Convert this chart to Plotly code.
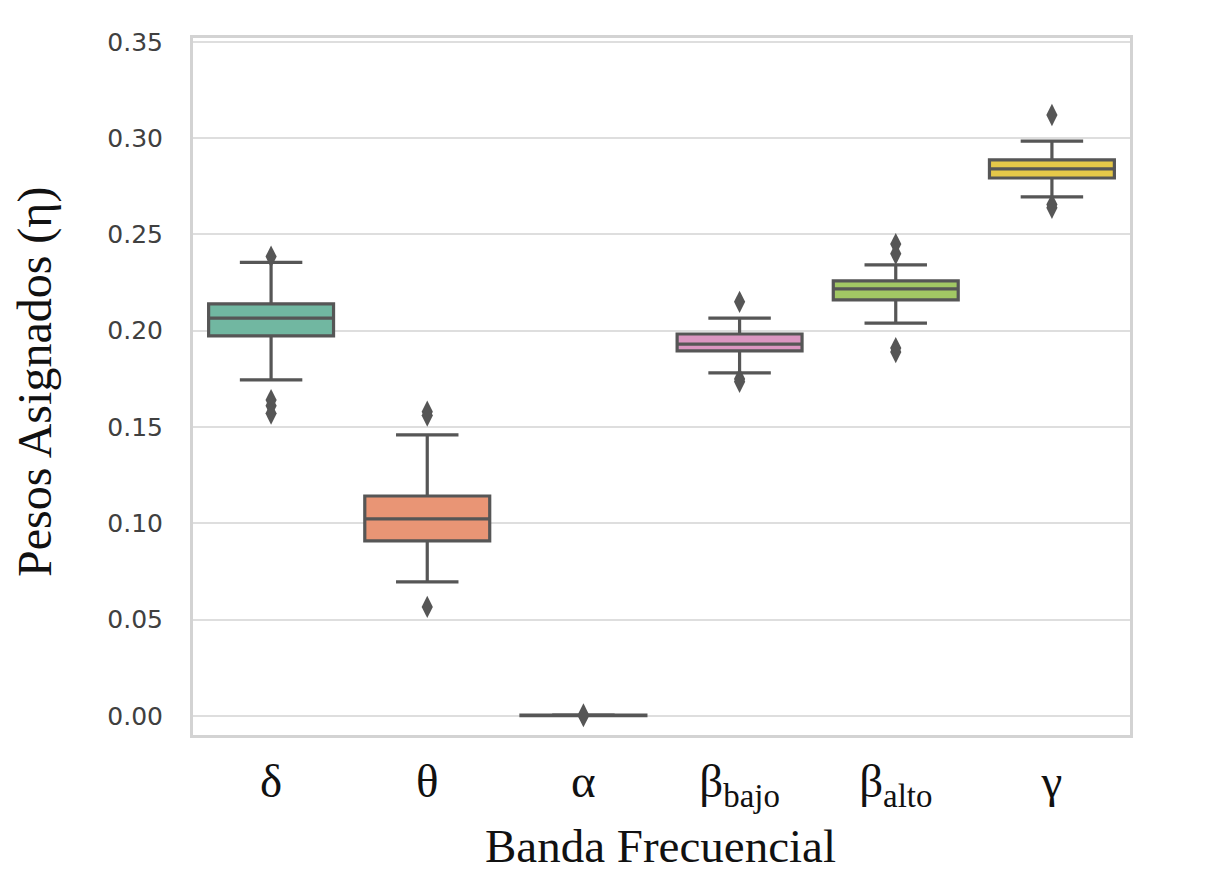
import plotly.graph_objects as go

categories = ["δ", "θ", "α", "β<sub>bajo</sub>", "β<sub>alto</sub>", "γ"]
q1 = [0.1973, 0.0909, 0.0002, 0.1895, 0.2160, 0.2793]
median = [0.2066, 0.1023, 0.0003, 0.1931, 0.2217, 0.2840]
q3 = [0.2139, 0.1142, 0.0004, 0.1983, 0.2259, 0.2887]
lowerfence = [0.1745, 0.0696, 0.0001, 0.1781, 0.2040, 0.2695]
upperfence = [0.2355, 0.1459, 0.0006, 0.2066, 0.2342, 0.2985]
outliers = [
    [0.2385, 0.1640, 0.1610, 0.1570],
    [0.1580, 0.1560, 0.0566],
    [-0.0001, 0.0008],
    [0.2150, 0.1750, 0.1735],
    [0.2450, 0.2400, 0.1910, 0.1890],
    [0.3120, 0.2655, 0.2638],
]
colors = ["#71b7a1", "#e99575", "#95a2c1", "#db96c1", "#a2c864", "#e5c849"]
tick_vals = [0.0, 0.05, 0.10, 0.15, 0.20, 0.25, 0.30, 0.35]

edge = "#565656"
fig = go.Figure()
for i, c in enumerate(categories):
    fig.add_trace(go.Box(
        x=[c], q1=[q1[i]], median=[median[i]], q3=[q3[i]],
        lowerfence=[lowerfence[i]], upperfence=[upperfence[i]],
        fillcolor=colors[i], line=dict(color=edge, width=3.2),
        width=0.8, whiskerwidth=0.5, boxpoints=False, showlegend=False,
    ))
    fig.add_trace(go.Scatter(
        x=[c] * len(outliers[i]), y=outliers[i], mode="markers",
        marker=dict(symbol="diamond-tall", size=16, color=edge, line=dict(width=0)),
        showlegend=False, hoverinfo="y",
    ))

L, R, T, B = 193, 1130, 38, 735
W, H = R - L, B - T

fig.update_layout(
    width=1209, height=873,
    margin=dict(l=L, r=1209 - R, t=T, b=873 - B),
    plot_bgcolor="white", paper_bgcolor="white",
    boxmode="overlay",
    xaxis=dict(
        type="category", categoryorder="array", categoryarray=categories,
        range=[-0.5, 5.5], autorange=False,
        showgrid=False, showline=True, linecolor="#d3d3d3", linewidth=3, mirror=True,
        ticks="", tickfont=dict(family="Liberation Serif", size=47, color="#111"),
        ticklabelstandoff=3, zeroline=False,
    ),
    yaxis=dict(
        range=[-0.0099, 0.352], tickvals=tick_vals, tickformat=".2f",
        showgrid=True, gridcolor="#dedede", gridwidth=2,
        showline=True, linecolor="#d3d3d3", linewidth=3, mirror=True,
        ticks="", tickfont=dict(family="DejaVu Sans", size=25, color="#404040"),
        ticklabelstandoff=22, zeroline=False,
    ),
    annotations=[
        dict(text="Banda Frecuencial", xref="paper", yref="paper",
             x=(660 - L) / W, y=-(846 - B) / H, xanchor="center", yanchor="middle",
             showarrow=False, font=dict(family="Liberation Serif", size=47, color="#111")),
        dict(text="Pesos Asignados (η)", xref="paper", yref="paper",
             x=-(L - 35) / W, y=(B - 382) / H, xanchor="center", yanchor="middle",
             textangle=-90,
             showarrow=False, font=dict(family="Liberation Serif", size=48, color="#111")),
    ],
)
fig.write_html("out.html")
